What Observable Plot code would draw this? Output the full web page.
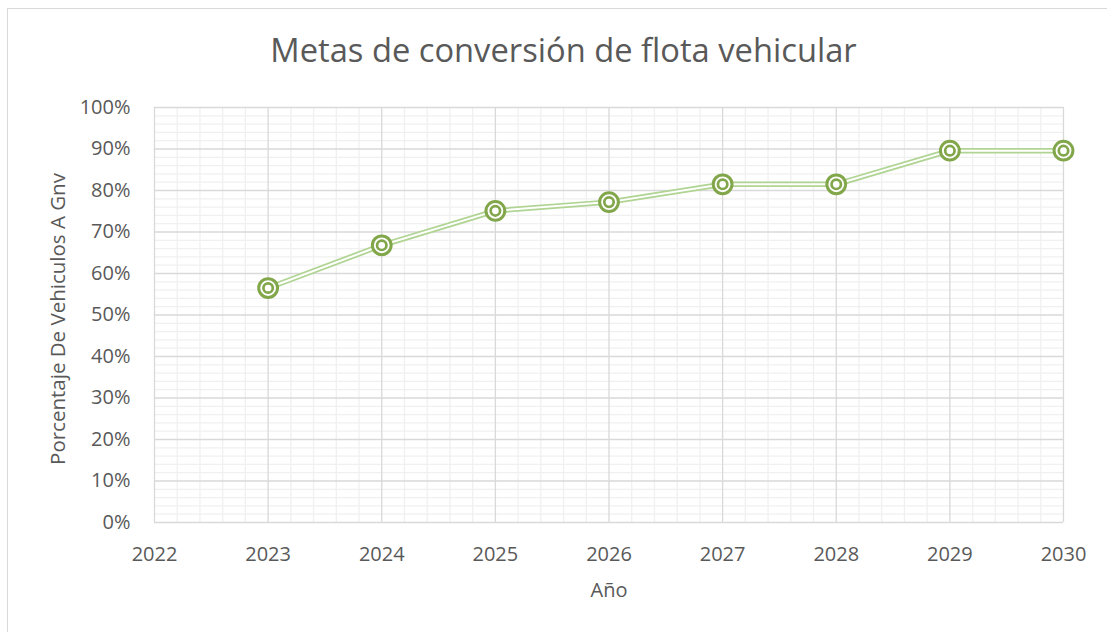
<!DOCTYPE html>
<html>
<head>
<meta charset="utf-8">
<script src="https://cdn.jsdelivr.net/npm/d3@7"></script>
<script src="https://cdn.jsdelivr.net/npm/@observablehq/plot@0.6"></script>
<style>
html,body{margin:0;padding:0;background:#fff;}
#wrap{position:relative;width:1107px;height:632px;overflow:hidden;font-family:"Open Sans",sans-serif;color:#595959;}
#frame{position:absolute;left:7px;top:8px;width:1300px;height:800px;border:1px solid #d9d9d9;box-sizing:border-box;pointer-events:none;}
#title{height:90px;box-sizing:border-box;padding-top:28px;line-height:44px;font-size:32.7px;text-align:center;white-space:nowrap;padding-left:20px;}
#chart svg{display:block;}
</style>
</head>
<body>
<div id="wrap">
  <div id="frame"></div>
  <div id="title">Metas de conversión de flota vehicular</div>
  <div id="chart"></div>
</div>
<script>
const titleText = "Metas de conversión de flota vehicular";
const xLabel = "Año";
const yLabel = "Porcentaje De Vehiculos A Gnv";
const years = [2023, 2024, 2025, 2026, 2027, 2028, 2029, 2030];
const percent = [0.565, 0.668, 0.751, 0.772, 0.815, 0.815, 0.896, 0.896];
const xTicks = [2022, 2023, 2024, 2025, 2026, 2027, 2028, 2029, 2030];
const yTicks = [0, 0.1, 0.2, 0.3, 0.4, 0.5, 0.6, 0.7, 0.8, 0.9, 1.0];

const data = years.map((y, i) => ({year: y, value: percent[i]}));
const xMinor = d3.range(0, 40).map(i => 2022 + i * 0.2).filter((v, i) => i % 5 !== 0);
const yMinor = d3.range(0, 50).map(i => i * 0.02).filter((v, i) => i % 5 !== 0);

const lineColor = "#b0d492";
const markerColor = "#82a64a";

const chart = Plot.plot({
  width: 1107,
  height: 542,
  marginTop: 17,
  marginBottom: 110,
  marginLeft: 154,
  marginRight: 44,
  style: {fontFamily: "'Open Sans', sans-serif", fontSize: "20px", color: "#595959", background: "transparent"},
  x: {domain: [2022, 2030]},
  y: {domain: [0, 1]},
  marks: [
    Plot.ruleX(xMinor, {stroke: "#f0f0f0", strokeWidth: 1.3, strokeOpacity: 1}),
    Plot.ruleY(yMinor, {stroke: "#f0f0f0", strokeWidth: 1.3, strokeOpacity: 1}),
    Plot.ruleX(xTicks, {stroke: "#d9d9d9", strokeWidth: 1.3, strokeOpacity: 1}),
    Plot.ruleY(yTicks, {stroke: "#d9d9d9", strokeWidth: 1.3, strokeOpacity: 1}),
    Plot.axisX({ticks: xTicks, tickFormat: d => String(d), tickSize: 0, tickPadding: 24,
      label: xLabel, labelAnchor: "center", labelOffset: 74, labelArrow: "none"}),
    Plot.axisY({ticks: yTicks, tickFormat: d3.format(".0%"), tickSize: 0, tickPadding: 24, label: null}),
    Plot.text([yLabel], {text: d => d, frameAnchor: "left", textAnchor: "middle", rotate: -90, dx: -96, dy: 4, fontSize: 20.5}),
    Plot.lineY(data, {x: "year", y: "value", stroke: lineColor, strokeWidth: 5.5}),
    Plot.lineY(data, {x: "year", y: "value", stroke: "#ffffff", strokeWidth: 2}),
    Plot.dot(data, {x: "year", y: "value", r: 9.4, stroke: markerColor, strokeWidth: 3, fill: "#ffffff"}),
    Plot.dot(data, {x: "year", y: "value", r: 4.7, stroke: markerColor, strokeWidth: 2.7, fill: "#ffffff"})
  ]
});
document.getElementById("chart").appendChild(chart);
</script>
</body>
</html>
